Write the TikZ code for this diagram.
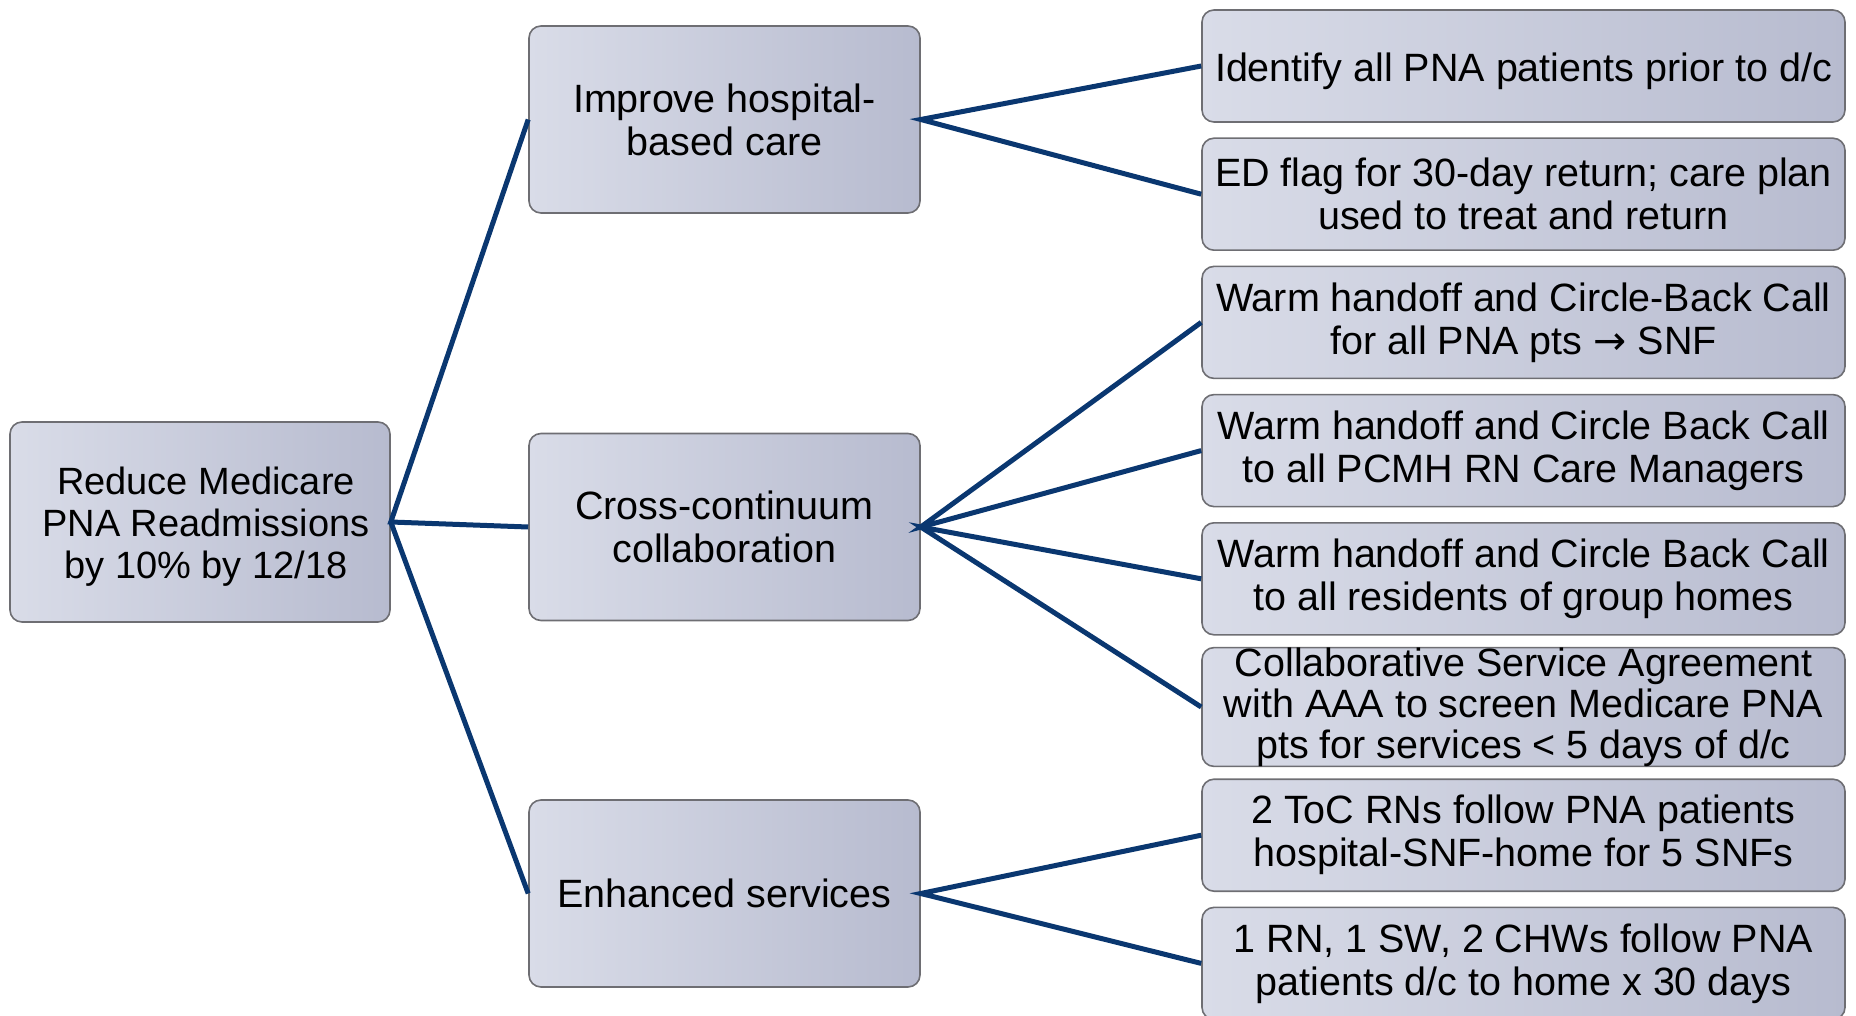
\documentclass[tikz,border=0pt]{standalone}
\usepackage{fontspec}
\setmainfont{Liberation Sans}
\newfontfamily\arrowfont{DejaVu Sans}
\definecolor{lineblue}{RGB}{10,55,112}
\definecolor{boxL}{RGB}{217,220,232}
\definecolor{boxR}{RGB}{183,187,207}
\definecolor{boxedge}{RGB}{110,110,115}
\newcommand{\lowr}[1]{\raisebox{-5pt}[\height][\depth]{#1}}
\tikzset{
  gbox/.style={rectangle, rounded corners=12pt, draw=boxedge, line width=1.6pt,
    left color=boxL, right color=boxR, inner sep=0pt, align=center,
    font=\fontsize{39.5}{43}\selectfont, text=black},
  rootbox/.style={gbox, minimum width=380pt, minimum height=200pt},
  roottext/.style={inner sep=0pt, align=center, font=\fontsize{38}{42}\selectfont, text=black},
  midbox/.style={gbox, minimum width=391pt, minimum height=187pt},
  leafbox/.style={gbox, minimum width=643pt, minimum height=112pt},
  conn/.style={draw=lineblue, line width=5pt}
}
\begin{document}
\begin{tikzpicture}[x=1pt,y=-1pt]
\useasboundingbox (0,0) rectangle (1856,1016);
\begin{scope}
\clip (0,0) rectangle (1856,1016);
\node[rootbox] (root) at (200,522) {};
\node[roottext] (rtext) at ([xshift=6pt,yshift=-5pt]root.center) {Reduce Medicare\\PNA Readmissions\\by 10\% by 12/18};
\node[midbox] (m1) at (724.5,119.5) {Improve hospital-\\based care};
\node[midbox] (m2) at (724.5,527) {Cross-continuum\\collaboration};
\node[midbox] (m3) at (724.5,893.5) {Enhanced services};
\node[leafbox] (r1) at (1523.5,66) {\lowr{Identify all PNA patients prior to d/c}};
\node[leafbox] (r2) at (1523.5,194.2) {ED flag for 30-day return; care plan\\used to treat and return};
\node[leafbox] (r3) at (1523.5,322.4) {Warm handoff and Circle-Back Call\\for all PNA pts {\arrowfont →} SNF};
\node[leafbox] (r4) at (1523.5,450.6) {Warm handoff and Circle Back Call\\to all PCMH RN Care Managers};
\node[leafbox] (r5) at (1523.5,578.8) {Warm handoff and Circle Back Call\\to all residents of group homes};
\node[leafbox, font=\fontsize{39.5}{41}\selectfont] (r6) at (1523.5,707) {Collaborative Service Agreement\\with AAA to screen Medicare PNA\\pts for services < 5 days of d/c};
\node[leafbox] (r7) at (1523.5,835.2) {2 ToC RNs follow PNA patients\\hospital-SNF-home for 5 SNFs};
\node[leafbox] (r8) at (1523.5,963.4) {1 RN, 1 SW, 2 CHWs follow PNA\\patients d/c to home x 30 days};
\draw[conn] (m1.west) -- (root.east) -- (m2.west);
\draw[conn] (root.east) -- (m3.west);
\draw[conn] (r1.west) -- (m1.east) -- (r2.west);
\draw[conn] (r3.west) -- (m2.east) -- (r4.west);
\draw[conn] (r5.west) -- (m2.east) -- (r6.west);
\draw[conn] (r7.west) -- (m3.east) -- (r8.west);
\end{scope}
\end{tikzpicture}
\end{document}
